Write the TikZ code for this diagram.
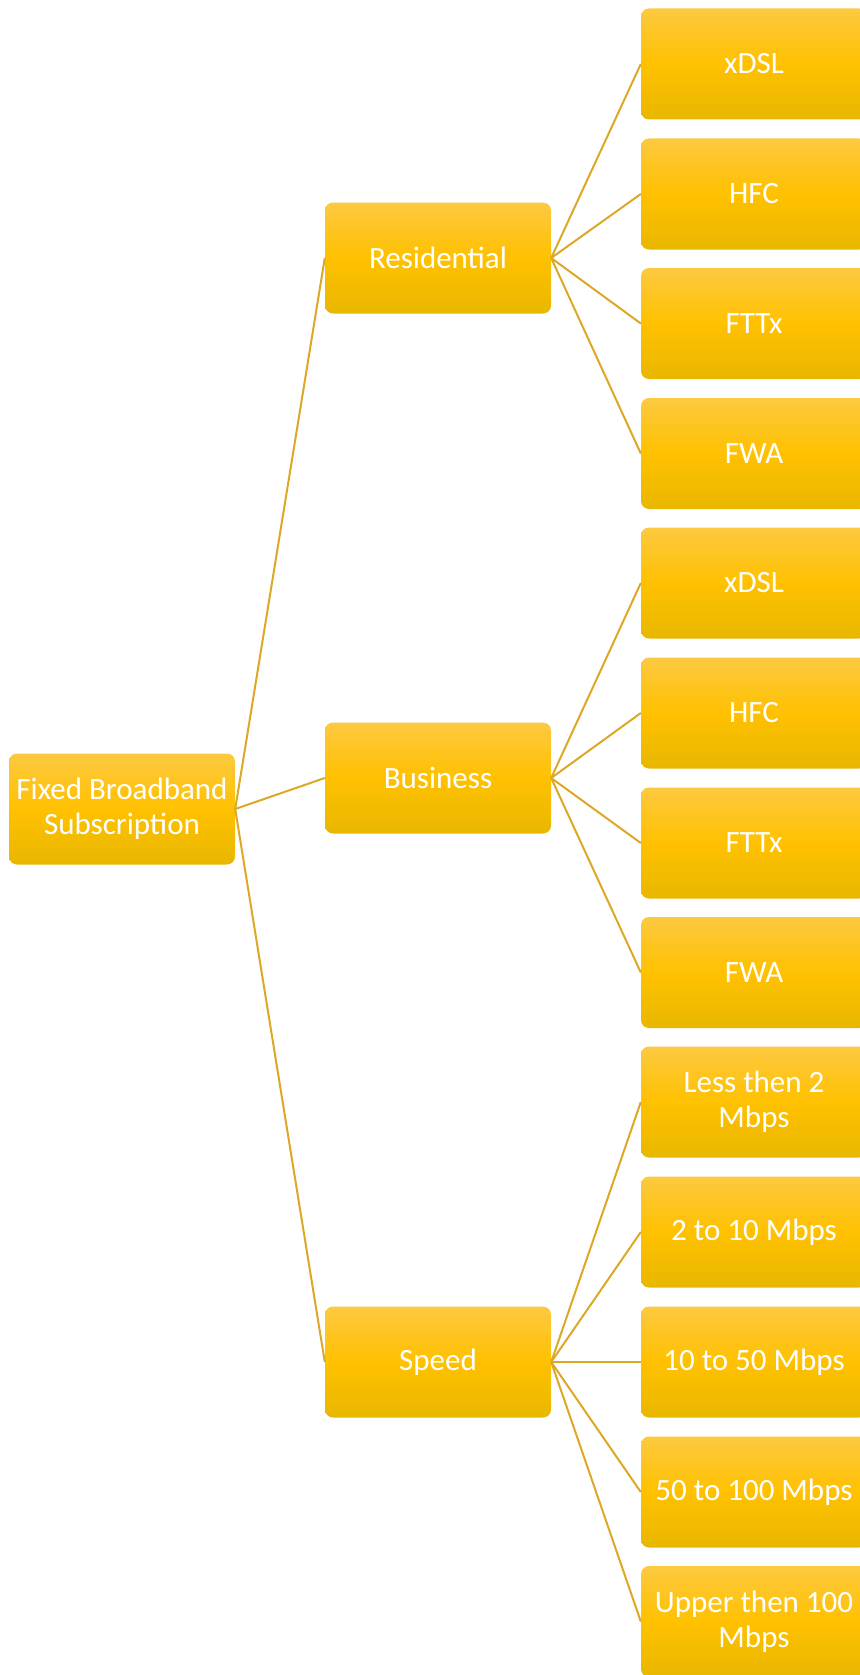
\documentclass[tikz,border=0pt]{standalone}
\usepackage{fontspec}
\setmainfont{Carlito}
\usepackage{tikz}
\definecolor{boxtop}{RGB}{253,201,64}
\definecolor{boxmid}{RGB}{255,193,0}
\definecolor{boxbot}{RGB}{232,183,0}
\definecolor{linkgold}{RGB}{220,168,38}
\tikzset{
  box/.style={rounded corners=8pt, minimum width=226pt, minimum height=111pt, inner sep=0pt,
    top color=boxtop, bottom color=boxbot, middle color=boxmid,
    text=white, align=center, font=\fontsize{31}{35}\selectfont},
  link/.style={draw=linkgold, line width=2pt}
}
\begin{document}
\begin{tikzpicture}[x=1pt, y=-1pt]
			%%%%% START %%%%%
			\useasboundingbox (0, 0) rectangle (859, 1675);
			
			\node[box] (fbs) at (122, 809) {Fixed Broadband\\Subscription};
			
			\node[box] (res) at (438, 258) {Residential};
			\node[box] (bus) at (438, 778) {Business};
			\node[box] (spd) at (438, 1362) {Speed};
			
			\node[box] (resdsl) at (754, 64) {xDSL};
			\node[box] (reshfc) at (754, 194) {HFC};
			\node[box] (resftt) at (754, 323.5) {FTTx};
			\node[box] (resfwa) at (754, 453.5) {FWA};
			
			\node[box] (busdsl) at (754, 583) {xDSL};
			\node[box] (bushfc) at (754, 713) {HFC};
			\node[box] (busftt) at (754, 843) {FTTx};
			\node[box] (busfwa) at (754, 972.5) {FWA};
			
			\node[box] (spda) at (754, 1102) {Less then 2\\Mbps};
			\node[box] (spdb) at (754, 1232) {2 to 10 Mbps};
			\node[box] (spdc) at (754, 1362) {10 to 50 Mbps};
			\node[box] (spdd) at (754, 1492) {50 to 100 Mbps};
			\node[box] (spde) at (754, 1621.5) {Upper then 100\\Mbps};
			
			\draw[link] (fbs.east) -- (res.west);
			\draw[link] (fbs.east) -- (bus.west);
			\draw[link] (fbs.east) -- (spd.west);
			
			\draw[link] (res.east) -- (resdsl.west);
			\draw[link] (res.east) -- (reshfc.west);
			\draw[link] (res.east) -- (resftt.west);
			\draw[link] (res.east) -- (resfwa.west);
			
			\draw[link] (bus.east) -- (busdsl.west);
			\draw[link] (bus.east) -- (bushfc.west);
			\draw[link] (bus.east) -- (busftt.west);
			\draw[link] (bus.east) -- (busfwa.west);
			
			\draw[link] (spd.east) -- (spda.west);
			\draw[link] (spd.east) -- (spdb.west);
			\draw[link] (spd.east) -- (spdc.west);
			\draw[link] (spd.east) -- (spdd.west);
			\draw[link] (spd.east) -- (spde.west);
			%%%%% END %%%%%
\end{tikzpicture}
\end{document}
